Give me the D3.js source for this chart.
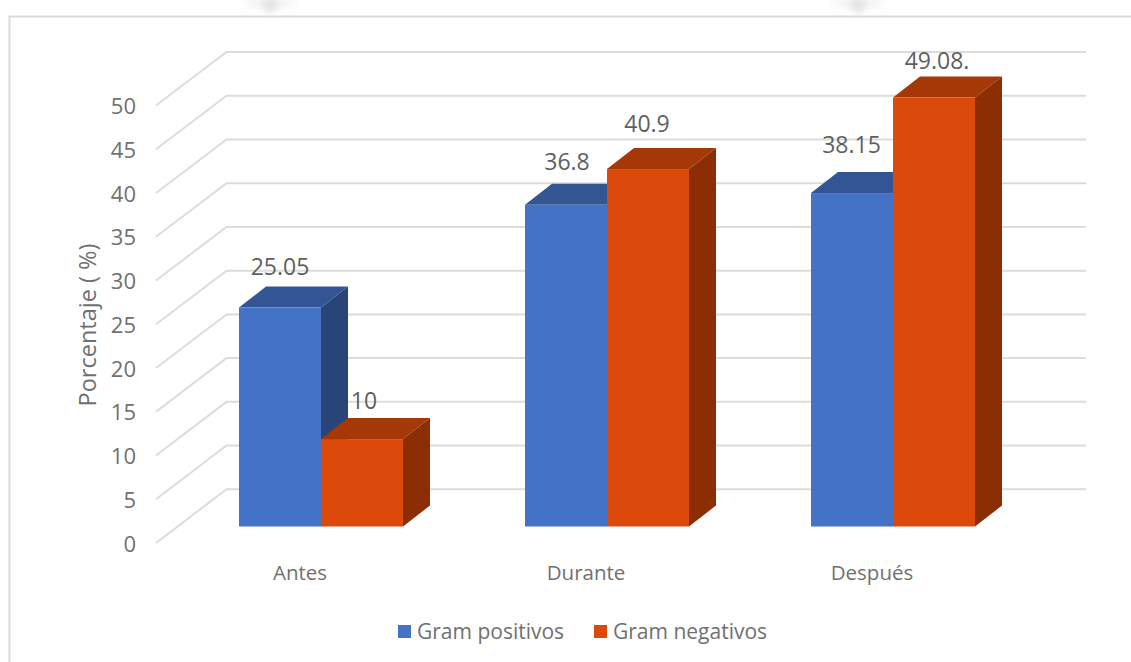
<!DOCTYPE html>
<html><head><meta charset="utf-8">
<script src="https://cdn.jsdelivr.net/npm/d3@7"></script>
<style>html,body{margin:0;padding:0;background:#fff}svg{display:block}text{font-family:"Open Sans",sans-serif}</style>
</head><body><svg id="c" width="1131" height="662"><defs><filter id="b" x="-50%" y="-50%" width="200%" height="200%"><feGaussianBlur stdDeviation="3"/></filter></defs></svg>
<script>
const categories = ["Antes","Durante","Después"];
const seriesNames = ["Gram positivos","Gram negativos"];
const gramPositivos = [25.05,36.8,38.15];
const gramNegativos = [10,40.9,49.08];
const dataLabels = [["25.05","36.8","38.15"],["10","40.9","49.08."]];
const ticks = [0,5,10,15,20,25,30,35,40,45,50];
const yLabel = "Porcentaje ( %)";
const palette = [
 {front:"#4472c4",top:"#335593",side:"#284478"},
 {front:"#db4a0a",top:"#a53806",side:"#8b2e04"}];
const values=[gramPositivos,gramNegativos];

const svg=d3.select("#c");
const textCol="#707070", gridCol="#dcdcdc";
// frame
svg.append("path").attr("d","M1131,16.5H9.5V662").attr("fill","none").attr("stroke","#dadada").attr("stroke-width",2);
// faint watermark remnants
[[282,2],[870,2]].forEach(p=>{
 svg.append("ellipse").attr("cx",p[0]-12).attr("cy",p[1]).attr("rx",26).attr("ry",7).attr("fill","#f4f5f4").attr("filter","url(#b)");
 svg.append("ellipse").attr("cx",p[0]-12).attr("cy",p[1]+3).attr("rx",8).attr("ry",8).attr("fill","#e4e6e4").attr("filter","url(#b)");
});
const yBack=d3.scaleLinear().domain([0,50]).range([489.3,52]);
const yFront=d3.scaleLinear().domain([0,50]).range([543,105.5]);
const yBar=d3.scaleLinear().domain([0,50]).range([526.5,89.5]);
const x=d3.scaleBand().domain(categories).range([178,1036]);
const sub=d3.scaleBand().domain([0,1]).range([-82,82]);
const depth={x:27,y:21};
const gridX0=156,gridX1=226.5,gridX2=1086;
const g=svg.append("g");
g.selectAll("path.grid").data(ticks).join("path").attr("class","grid")
 .attr("d",t=>d3.line()([[gridX0,yFront(t)],[gridX1,yBack(t)],[gridX2,yBack(t)]]))
 .attr("fill","none").attr("stroke",gridCol).attr("stroke-width",2);
g.selectAll("text.tick").data(ticks).join("text").attr("class","tick")
 .attr("x",136).attr("y",t=>yFront(t)+8.5).attr("text-anchor","end")
 .attr("font-size",22).attr("fill",textCol).text(d=>d);
// bars
categories.forEach((c,i)=>{
 const cx=x(c)+x.bandwidth()/2;
 [0,1].forEach(s=>{
  const v=values[s][i], L=cx+sub(s), R=L+sub.bandwidth(), T=yBar(v), B=yBar(0), col=palette[s];
  const bar=g.append("g");
  bar.append("path").attr("d",d3.line()([[R,T],[R+depth.x,T-depth.y],[R+depth.x,B-depth.y],[R,B]])+"Z").attr("fill",col.side);
  bar.append("path").attr("d",d3.line()([[L,T],[L+depth.x,T-depth.y],[R+depth.x,T-depth.y],[R,T]])+"Z").attr("fill",col.top);
  bar.append("rect").attr("x",L).attr("y",T).attr("width",R-L).attr("height",B-T).attr("fill",col.front);
 });
});
// data labels
const labelOffset=[[[41,-33],[42,-35],[40.5,-40]],[[43,-30],[40,-37],[44,-29]]];
categories.forEach((c,i)=>{
 const cx=x(c)+x.bandwidth()/2;
 [0,1].forEach(s=>{
  const v=values[s][i], L=cx+sub(s);
  const o=labelOffset[s][i];
  g.append("text").attr("x",L+o[0]).attr("y",yBar(v)+o[1]).attr("text-anchor","middle")
   .attr("font-size",23).attr("fill","#5f5f5f").text(dataLabels[s][i]);
 });
});
// category labels
g.selectAll("text.cat").data(categories).join("text").attr("class","cat")
 .attr("x",(d,i)=>x(d)+x.bandwidth()/2-21).attr("y",580).attr("text-anchor","middle")
 .attr("font-size",20.5).attr("fill",textCol).text(d=>d);
// y title
g.append("text").attr("transform","translate(96,325) rotate(-90)").attr("text-anchor","middle")
 .attr("font-size",23.5).attr("fill",textCol).text(yLabel);
// legend
const legendX=[398,594];
seriesNames.forEach((n,i)=>{
 g.append("rect").attr("x",legendX[i]).attr("y",625).attr("width",13).attr("height",13).attr("fill",palette[i].front);
 g.append("text").attr("x",legendX[i]+19).attr("y",639).attr("font-size",21).attr("fill",textCol).text(n);
});
</script></body></html>
